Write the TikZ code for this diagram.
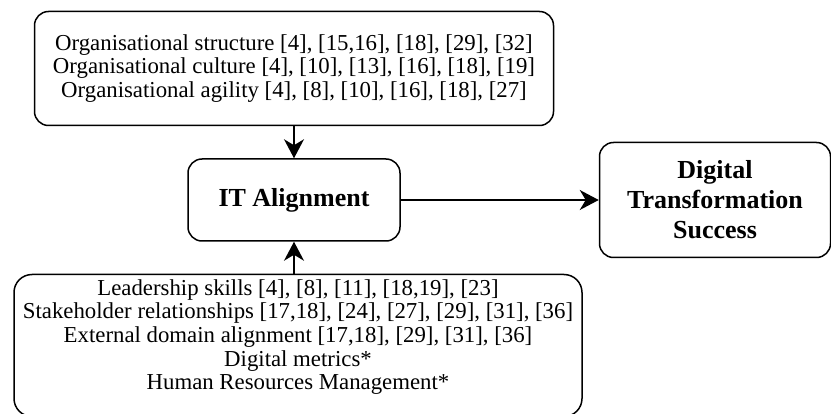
\documentclass[tikz,border=0pt]{standalone}
\usepackage{fontspec}
\setmainfont{Liberation Serif}
\usepackage{tikz}
\usetikzlibrary{arrows.meta,positioning}
\tikzset{
  factorbox/.style={
    draw=black,
    fill=white,
    line width=1.5pt,
    rounded corners=14pt,
    align=center,
    font=\fontsize{22.8}{23.6}\selectfont,
    inner sep=0pt
  },
  corebox/.style={
    factorbox,
    font=\fontsize{26}{30}\selectfont\bfseries
  },
  dataflow/.style={-{Stealth[length=19pt,width=20pt,inset=6pt]},draw=black,line width=1.6pt}
}

\begin{document}
\begin{tikzpicture}[x=1pt,y=-1pt]
\useasboundingbox (0,0) rectangle (831,414);
\node[corebox,minimum width=212pt,minimum height=82pt] (align) at (294,200) {IT Alignment};
\node[factorbox,above=32pt of align,minimum width=519pt,minimum height=114pt] (org) {Organisational structure [4], [15,16], [18], [29], [32]\\Organisational culture [4], [10], [13], [16], [18], [19]\\Organisational agility [4], [8], [10], [16], [18], [27]};
\node[factorbox,below=32pt of align,xshift=4pt,rounded corners=18pt,minimum width=568pt,minimum height=142pt] (mgmt) {Leadership skills [4], [8], [11], [18,19], [23]\\Stakeholder relationships [17,18], [24], [27], [29], [31], [36]\\External domain alignment [17,18], [29], [31], [36]\\Digital metrics*\\Human Resources Management*\\[-9pt]\strut};
\node[corebox,right=198pt of align,minimum width=231pt,minimum height=115pt] (success) {Digital\\Transformation\\Success};
\draw[dataflow] (org.south -| align)--(align.north);
\draw[dataflow] (mgmt.north -| align)--(align.south);
\draw[dataflow] (align)--(success);
\end{tikzpicture}
\end{document}
